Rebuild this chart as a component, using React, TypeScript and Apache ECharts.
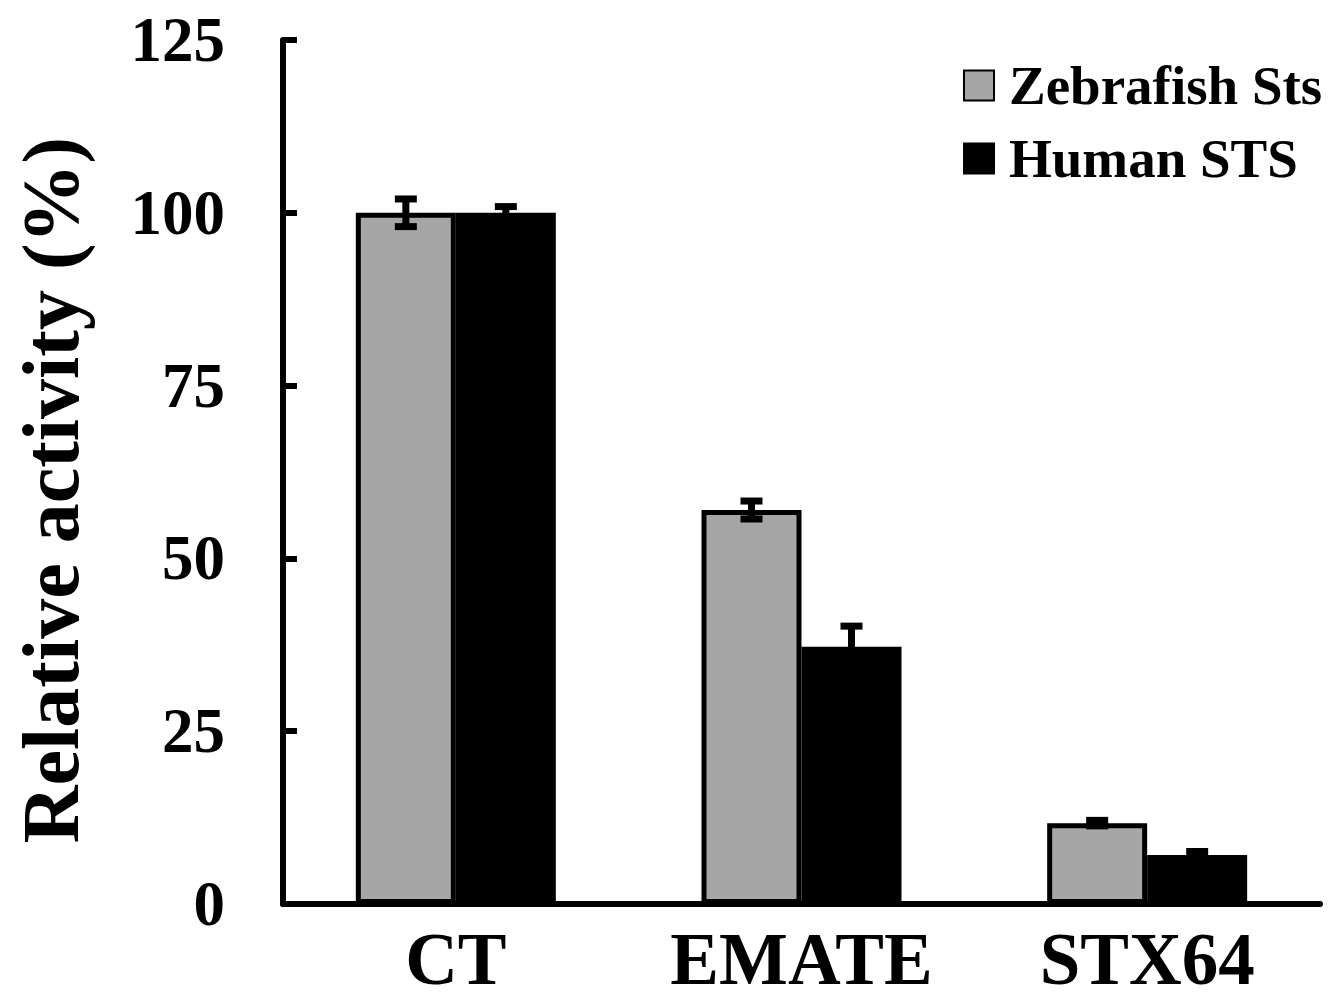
import React, { useEffect, useRef } from "react";
import * as echarts from "echarts";

const categories = ["CT", "EMATE", "STX64"];
const zebrafishValues = [100, 57, 11.7];
const zebrafishErrors = [2.0, 1.3, 0.4];
const humanValues = [100, 37.2, 7.1];
const humanErrors = [0.9, 3.0, 0.5];
const yTicks = { min: 0, max: 125, interval: 25 };

const FONT = '"Liberation Serif", "Times New Roman", serif';
const BAR_W = 100;

function errorSeries(name: string, values: number[], errors: number[], offset: number) {
  const data = values.map((v, i) => [i, v - errors[i], v + errors[i]]);
  return {
    type: "custom",
    name: name + " error",
    silent: true,
    z: 5,
    encode: { x: 0, y: [1, 2] },
    data,
    renderItem: (params: any, api: any) => {
      const cat = api.value(0);
      const lo = api.coord([cat, api.value(1)]);
      const hi = api.coord([cat, api.value(2)]);
      const x = lo[0] + offset;
      const capHalf = 11;
      const style = { stroke: "#000", lineWidth: 7, fill: "none" };
      return {
        type: "group",
        children: [
          { type: "line", shape: { x1: x, y1: lo[1], x2: x, y2: hi[1] }, style },
          { type: "line", shape: { x1: x - capHalf, y1: lo[1], x2: x + capHalf, y2: lo[1] }, style },
          { type: "line", shape: { x1: x - capHalf, y1: hi[1], x2: x + capHalf, y2: hi[1] }, style },
        ],
      };
    },
  };
}

export default function App() {
  const ref = useRef<HTMLDivElement>(null);
  useEffect(() => {
    if (!ref.current) return;
    const chart = echarts.init(ref.current, null, { renderer: "svg" });
    chart.setOption({
      animation: false,
      backgroundColor: "#ffffff",
      grid: {
        left: 283,
        right: 12,
        top: 40,
        bottom: 100,
        containLabel: false,
        outerBoundsMode: "none",
      },
      legend: {
        orient: "vertical",
        left: 963,
        top: 58,
        padding: 0,
        itemWidth: 30,
        itemHeight: 30,
        itemGap: 18,
        icon: "rect",
        data: ["Zebrafish Sts", "Human STS"],
        textStyle: {
          fontFamily: FONT,
          fontWeight: "bold",
          fontSize: 55,
          color: "#000",
          lineHeight: 54,
          padding: [0, 0, 0, 10],
        },
      },
      xAxis: {
        type: "category",
        data: categories,
        axisLine: { lineStyle: { color: "#000", width: 6 } },
        axisTick: { show: false },
        axisLabel: {
          interval: 0,
          margin: 27,
          fontFamily: FONT,
          fontWeight: "bold",
          fontSize: 73,
          lineHeight: 56,
          color: "#000",
        },
      },
      yAxis: {
        type: "value",
        min: yTicks.min,
        max: yTicks.max,
        interval: yTicks.interval,
        name: "Relative activity (%)",
        nameLocation: "middle",
        nameGap: 200,
        nameRotate: 90,
        nameTextStyle: {
          fontFamily: FONT,
          fontWeight: "bold",
          fontSize: 80,
          lineHeight: 64,
          color: "#000",
          padding: [0, 36, 0, 0],
        },
        axisLine: { show: true, lineStyle: { color: "#000", width: 6 } },
        axisTick: { show: true, inside: true, length: 14, lineStyle: { color: "#000", width: 6 } },
        splitLine: { show: false },
        axisLabel: {
          margin: 58,
          fontFamily: FONT,
          fontWeight: "bold",
          fontSize: 63,
          color: "#000",
        },
      },
      series: [
        {
          type: "bar",
          name: "Zebrafish Sts",
          data: zebrafishValues,
          barWidth: BAR_W,
          barGap: "0%",
          itemStyle: { color: "#a6a6a6", borderColor: "#000", borderWidth: 5 },
        },
        {
          type: "bar",
          name: "Human STS",
          data: humanValues,
          barWidth: BAR_W,
          barGap: "0%",
          itemStyle: { color: "#000", borderColor: "#000", borderWidth: 5 },
        },
        errorSeries("Zebrafish Sts", zebrafishValues, zebrafishErrors, -BAR_W / 2),
        errorSeries("Human STS", humanValues, humanErrors, BAR_W / 2),
      ],
    });
    return () => chart.dispose();
  }, []);
  return (
    <div
      ref={ref}
      style={{ position: "absolute", left: 0, top: 0, width: 1332, height: 1004 }}
    />
  );
}
